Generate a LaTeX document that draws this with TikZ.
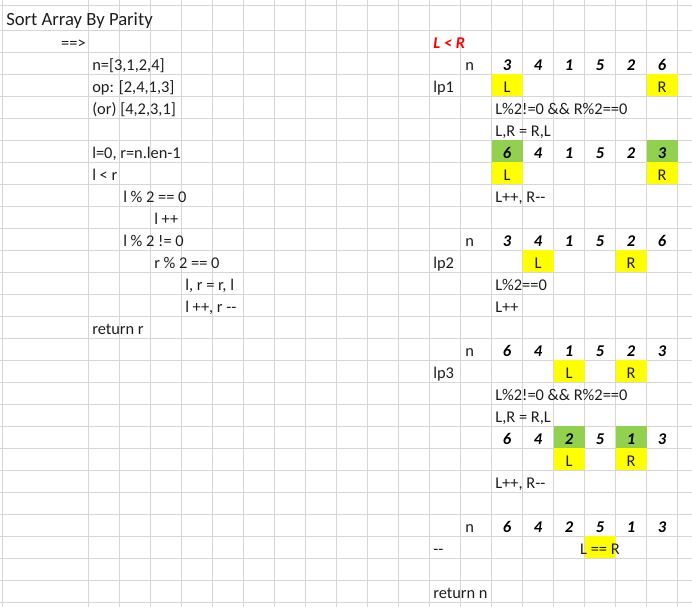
\documentclass[tikz,border=0pt]{standalone}
\usepackage{fontspec}
\setmainfont{Carlito}
\usepackage{tikz}
\usetikzlibrary{positioning}
\definecolor{gridgray}{RGB}{214,214,214}
\definecolor{xlyellow}{RGB}{255,255,0}
\definecolor{xlgreen}{RGB}{146,208,80}
\definecolor{xlred}{RGB}{255,0,0}
\definecolor{ink}{RGB}{30,30,30}
\newcommand{\cellfont}{\fontsize{12.3pt}{14pt}\selectfont}
\tikzset{
  gridline/.style={gridgray,line width=0.75pt},
  txt/.style={anchor=base west,inner sep=0pt,text=ink,font=\cellfont},
  ptr/.style={anchor=base,inner sep=0pt,text=ink,font=\cellfont},
  num/.style={anchor=base,inner sep=0pt,text=black,font=\cellfont\bfseries\itshape},
  hilite/.style={fill=xlyellow},
  swapped/.style={fill=xlgreen}
}

\begin{document}
\begin{tikzpicture}[x=0.75pt,y=-0.75pt]
 \useasboundingbox (0,0) rectangle (692,607);
 % sheet grid
 \draw[gridline] (2.5,0) -- (2.5,607);
 \foreach \k in {0,...,19} \draw[gridline] ({88.5+31*\k},0) -- ({88.5+31*\k},607);
 \draw[gridline] (0,5.7) -- (692,5.7);
 \foreach \k in {0,...,26} \draw[gridline] (0,{30.3+22*\k}) -- (692,{30.3+22*\k});
 % cell fills
 \fill[hilite] (491.5,74.3) rectangle ++(31,22);
 \fill[hilite] (646.5,74.3) rectangle ++(31,22);
 \fill[swapped] (491.5,140.3) rectangle ++(31,22);
 \fill[swapped] (646.5,140.3) rectangle ++(31,22);
 \fill[hilite] (491.5,162.3) rectangle ++(31,22);
 \fill[hilite] (646.5,162.3) rectangle ++(31,22);
 \fill[hilite] (522.5,250.3) rectangle ++(31,22);
 \fill[hilite] (615.5,250.3) rectangle ++(31,22);
 \fill[hilite] (553.5,360.3) rectangle ++(31,22);
 \fill[hilite] (615.5,360.3) rectangle ++(31,22);
 \fill[swapped] (553.5,426.3) rectangle ++(31,22);
 \fill[swapped] (615.5,426.3) rectangle ++(31,22);
 \fill[hilite] (553.5,448.3) rectangle ++(31,22);
 \fill[hilite] (615.5,448.3) rectangle ++(31,22);
 \fill[hilite] (584.5,536.3) rectangle ++(31,22);

 % left: pseudo code
 \node[txt,font=\fontsize{14pt}{17pt}\selectfont] (title) at (6,25) {Sort Array By Parity};
 \node[txt,anchor=base east] (arrow) at (86,48) {==>};
 \node[txt] (input) at (92,70) {n=[3,1,2,4]};
 \node[txt] (output) at (92,92) {op: [2,4,1,3]};
 \node[txt] (alt) at (92,114) {(or) [4,2,3,1]};
 \node[txt] (init) at (92,158) {l=0, r=n.len-1};
 \node[txt] (loop) at (92,180) {l < r};
 \node[txt] (even) at (123,202) {l \% 2 == 0};
 \node[txt] (incl) at (154,224) {l ++};
 \node[txt] (odd) at (123,246) {l \% 2 != 0};
 \node[txt] (reven) at (154,268) {r \% 2 == 0};
 \node[txt] (swap) at (185,290) {l, r = r, l};
 \node[txt] (move) at (185,312) {l ++, r -{}-};
 \node[txt] (ret) at (92,334) {return r};

 % right: trace
 \node[txt,text=xlred,font=\cellfont\bfseries\itshape] (cond) at (433,48) {L < R};
 \node[txt] (n1) at (465,70) {n};
 \foreach \v [count=\i from 0] in {3,4,1,5,2,6} \node[num] (rowa-\i) at ({507+31*\i},70) {\v};
 \node[txt] (lp1) at (433,92) {lp1};
 \node[ptr] (l1) at (507,92) {L};
 \node[ptr] (r1) at (662,92) {R};
 \node[txt] (chk1) at (495,114) {L\%2!=0 \&\& R\%2==0};
 \node[txt] (sw1) at (495,136) {L,R = R,L};
 \foreach \v [count=\i from 0] in {6,4,1,5,2,3} \node[num] (rowb-\i) at ({507+31*\i},158) {\v};
 \node[ptr] (l1b) at (507,180) {L};
 \node[ptr] (r1b) at (662,180) {R};
 \node[txt] (mv1) at (495,202) {L++, R-{}-};

 \node[txt] (n2) at (465,246) {n};
 \foreach \v [count=\i from 0] in {3,4,1,5,2,6} \node[num] (rowc-\i) at ({507+31*\i},246) {\v};
 \node[txt] (lp2) at (433,268) {lp2};
 \node[ptr] (l2) at (538,268) {L};
 \node[ptr] (r2) at (631,268) {R};
 \node[txt] (chk2) at (495,290) {L\%2==0};
 \node[txt] (mv2) at (495,312) {L++};

 \node[txt] (n3) at (465,356) {n};
 \foreach \v [count=\i from 0] in {6,4,1,5,2,3} \node[num] (rowd-\i) at ({507+31*\i},356) {\v};
 \node[txt] (lp3) at (433,378) {lp3};
 \node[ptr] (l3) at (569,378) {L};
 \node[ptr] (r3) at (631,378) {R};
 \node[txt] (chk3) at (495,400) {L\%2!=0 \&\& R\%2==0};
 \node[txt] (sw3) at (495,422) {L,R = R,L};
 \foreach \v [count=\i from 0] in {6,4,2,5,1,3} \node[num] (rowe-\i) at ({507+31*\i},444) {\v};
 \node[ptr] (l3b) at (569,466) {L};
 \node[ptr] (r3b) at (631,466) {R};
 \node[txt] (mv3) at (495,488) {L++, R-{}-};

 \node[txt] (n4) at (465,532) {n};
 \foreach \v [count=\i from 0] in {6,4,2,5,1,3} \node[num] (rowf-\i) at ({507+31*\i},532) {\v};
 \node[txt] (stop) at (433,554) {-{}-};
 \node[ptr] (meet) at (600,554) {L == R};
 \node[txt] (retn) at (433,598) {return n};
\end{tikzpicture}
\end{document}
